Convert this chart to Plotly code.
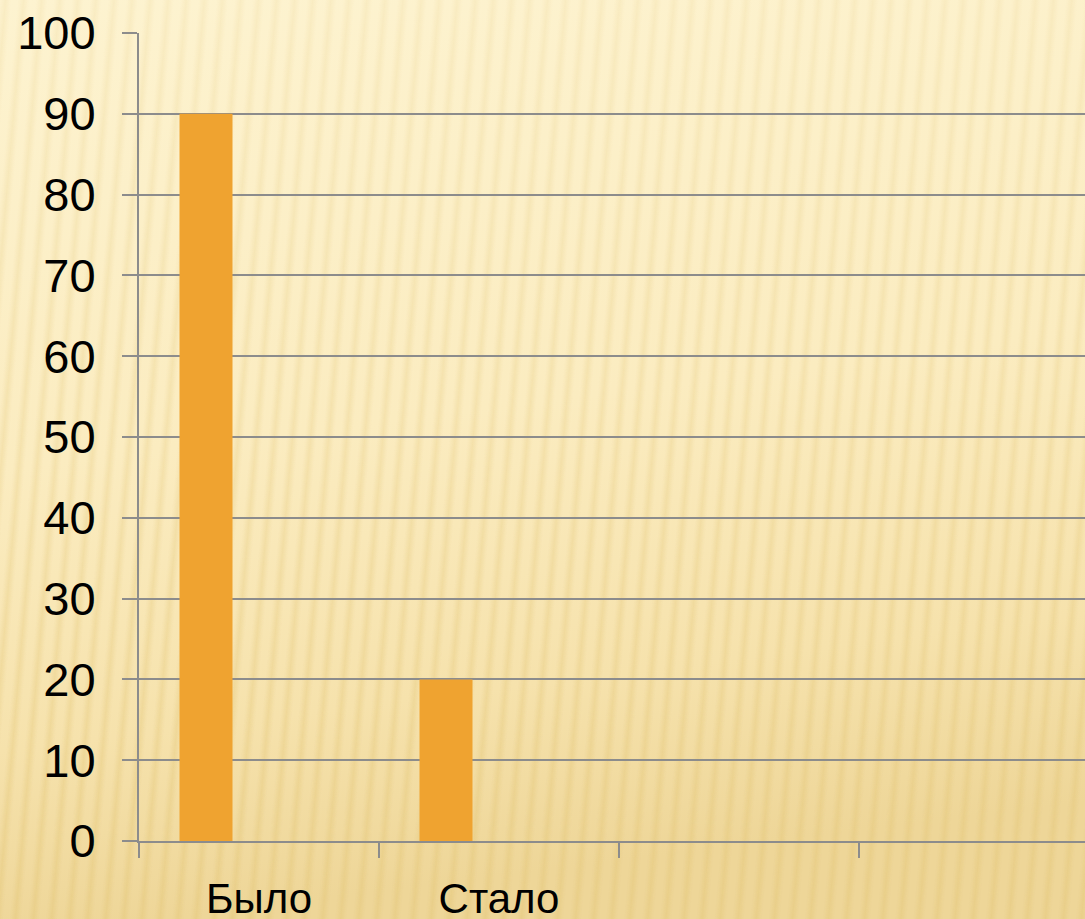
import plotly.graph_objects as go
import urllib.parse

categories = ["Было", "Стало"]
x_pos = [0, 1]
series1 = [90, 20]
series2 = [0, 0]
series3 = [0, 0]
slot_bounds = [-0.5, 0.5, 1.5, 2.5, 3.5]
y_ticks = [0, 10, 20, 30, 40, 50, 60, 70, 80, 90, 100]

W, H = 1085, 919
L, T, B = 139, 33, 78
plot_w = W - L
plot_h = H - T - B

svg = f'''<svg xmlns="http://www.w3.org/2000/svg" width="{W}" height="{H}" viewBox="0 0 {W} {H}">
<defs>
<linearGradient id="g" x1="0" y1="0" x2="0.15" y2="1">
<stop offset="0" stop-color="#fdf3d0"/>
<stop offset="0.5" stop-color="#fbecc0"/>
<stop offset="0.8" stop-color="#f6e2ac"/>
<stop offset="1" stop-color="#eed698"/>
</linearGradient>
<linearGradient id="sg" x1="0" y1="0" x2="1" y2="0">
<stop offset="0" stop-color="#e2c473" stop-opacity="0"/>
<stop offset="0.5" stop-color="#e2c473" stop-opacity="0.38"/>
<stop offset="1" stop-color="#e2c473" stop-opacity="0"/>
</linearGradient>
<linearGradient id="m" x1="0" y1="0" x2="0" y2="1">
<stop offset="0" stop-color="#fff" stop-opacity="0.35"/>
<stop offset="1" stop-color="#fff" stop-opacity="1"/>
</linearGradient>
<mask id="mk"><rect width="{W}" height="{H}" fill="url(#m)"/></mask>
<pattern id="p" width="18" height="60" patternUnits="userSpaceOnUse" patternTransform="rotate(5)">
<rect x="0" y="0" width="11" height="60" fill="url(#sg)"/>
</pattern>
</defs>
<rect width="{W}" height="{H}" fill="url(#g)"/>
<rect width="{W}" height="{H}" fill="url(#p)" mask="url(#mk)"/>
</svg>'''
src = "data:image/svg+xml;charset=utf-8," + urllib.parse.quote(svg)

bar_color = "#EFA330"
fig = go.Figure()
for vals in (series1, series2, series3):
    fig.add_trace(go.Bar(x=x_pos, y=vals, marker=dict(color=bar_color, line=dict(width=0)),
                         showlegend=False, hoverinfo="skip"))

grid_color = "#8c8c8c"
slot = 240.0
x_end = -0.5 + plot_w / slot

fig.update_layout(
    width=W, height=H,
    margin=dict(l=L, r=0, t=T, b=B, pad=0, autoexpand=False),
    paper_bgcolor="#fbecc0",
    plot_bgcolor="rgba(0,0,0,0)",
    barmode="group",
    bargap=81 / 240,
    bargroupgap=0,
    font=dict(family="Liberation Sans, Arial, sans-serif", color="#000000"),
    images=[dict(source=src, xref="paper", yref="paper",
                 x=-L / plot_w, y=1 + T / plot_h,
                 sizex=W / plot_w, sizey=H / plot_h,
                 xanchor="left", yanchor="top", sizing="stretch", layer="below")],
    xaxis=dict(
        range=[-0.5, x_end],
        tickmode="array", tickvals=slot_bounds,
        showticklabels=False,
        ticks="outside", ticklen=15, tickwidth=2, tickcolor=grid_color,
        showline=True, linecolor=grid_color, linewidth=2,
        showgrid=False, zeroline=False,
        automargin=False,
        fixedrange=True,
    ),
    xaxis2=dict(
        overlaying="x", anchor="y", side="bottom",
        range=[-0.5, x_end],
        tickmode="array", tickvals=x_pos, ticktext=categories,
        ticks="outside", ticklen=15, tickcolor="rgba(0,0,0,0)",
        showline=False, showgrid=False, zeroline=False,
        tickfont=dict(size=42, color="#000000"),
        ticklabelstandoff=6,
        automargin=False,
        fixedrange=True,
    ),
    yaxis=dict(
        range=[0, 100],
        tickmode="array", tickvals=y_ticks,
        ticks="outside", ticklen=15, tickwidth=2, tickcolor=grid_color,
        showline=True, linecolor=grid_color, linewidth=2,
        showgrid=True, gridcolor=grid_color, gridwidth=2,
        zeroline=False,
        tickfont=dict(size=47, color="#000000"),
        ticklabelstandoff=17,
        automargin=False,
        fixedrange=True,
    ),
)
# invisible helper point so the label axis is drawn
fig.add_trace(go.Scatter(x=[x_pos[0]], y=[0], xaxis="x2", mode="markers",
                         marker=dict(opacity=0), showlegend=False, hoverinfo="skip"))

fig.write_html("out.html", config={"displayModeBar": False},
               post_script="document.body.style.margin='0';document.body.style.overflow='hidden';")
